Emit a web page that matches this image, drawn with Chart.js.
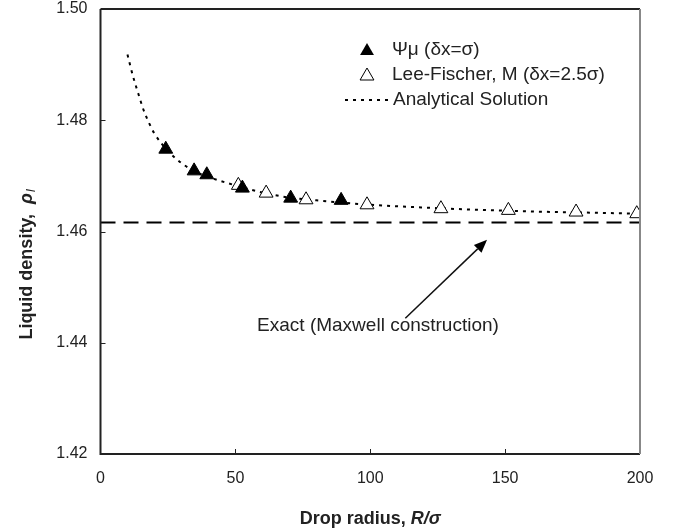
<!DOCTYPE html>
<html>
<head>
<meta charset="utf-8">
<script src="https://cdn.jsdelivr.net/npm/chart.js@4.4.1/dist/chart.umd.min.js"></script>
<style>
  html, body { margin: 0; padding: 0; background: #fff; }
  #wrap { width: 679px; height: 532px; }
</style>
</head>
<body>
<div id="wrap"><canvas id="grafica" width="679" height="532"></canvas></div>
<script>
// radio de gota R/sigma y densidad del liquido
const analyticR = [10, 12, 14, 16, 18, 20, 25, 30, 35, 40, 50, 60, 70, 80, 100, 120, 140, 160, 180, 200];
const analyticRho = [1.4918, 1.4880, 1.4848, 1.4818, 1.4795, 1.4776, 1.4745, 1.4723, 1.4708, 1.4698,
                     1.4683, 1.4670, 1.4661, 1.4656, 1.4648, 1.4643, 1.4639, 1.4636, 1.4634, 1.4632];

const psiR = [24.2, 34.7, 39.4, 52.6, 70.5, 89.2];
const psiRho = [1.4748, 1.4709, 1.4702, 1.4678, 1.4660, 1.4656];

const lfR = [51.1, 61.4, 76.2, 98.8, 126.2, 151.2, 176.3, 198.8];
const lfRho = [1.4683, 1.4669, 1.4657, 1.4648, 1.4641, 1.4638, 1.4635, 1.4632];

const exactR = [0, 200];
const exactRho = [1.4616, 1.4616];

const xTicks = [0, 50, 100, 150, 200];
const yTicks = [1.42, 1.44, 1.46, 1.48, 1.50];

const legendLabels = ['\u03A8\u03BC (\u03B4x=\u03C3)', 'Lee-Fischer, M (\u03B4x=2.5\u03C3)', 'Analytical Solution'];
const exactLabel = 'Exact (Maxwell construction)';
// flecha en unidades de datos: desde el texto hasta la linea exacta
const arrowFrom = [113, 1.4444];
const arrowTo = [143.3, 1.4585];

const FONT = "'Liberation Sans', Arial, sans-serif";
const TRI = 8;

function puntos(xs, ys) {
    return xs.map((x, i) => ({ x: x, y: ys[i] }));
}

function drawTri(ctx, x, y, r) {
    const h = r * 1.5, w = r * 1.732;
    ctx.moveTo(x, y - h * 2 / 3);
    ctx.lineTo(x + w / 2, y + h / 3);
    ctx.lineTo(x - w / 2, y + h / 3);
    ctx.closePath();
}

const marcoYTexto = {
    id: 'marcoYTexto',
    afterDraw(chart) {
        const ctx = chart.ctx;
        const a = chart.chartArea;
        const xs = chart.scales.x, ys = chart.scales.y;
        ctx.save();

        // marco
        ctx.lineWidth = 2;
        ctx.strokeStyle = '#222';
        ctx.beginPath();
        ctx.moveTo(a.left, a.top);
        ctx.lineTo(a.left, a.bottom);
        ctx.lineTo(a.right, a.bottom);
        ctx.moveTo(a.left, a.top);
        ctx.lineTo(a.right, a.top);
        ctx.stroke();
        ctx.strokeStyle = '#888';
        ctx.beginPath();
        ctx.moveTo(a.right, a.top);
        ctx.lineTo(a.right, a.bottom);
        ctx.stroke();

        // marcas hacia adentro
        ctx.lineWidth = 1;
        ctx.strokeStyle = '#222';
        ctx.beginPath();
        yTicks.slice(1, -1).forEach(v => {
            const py = Math.round(ys.getPixelForValue(v)) + 0.5;
            ctx.moveTo(a.left, py);
            ctx.lineTo(a.left + 5, py);
        });
        xTicks.slice(1, -1).forEach(v => {
            const px = Math.round(xs.getPixelForValue(v)) + 0.5;
            ctx.moveTo(px, a.bottom);
            ctx.lineTo(px, a.bottom - 5);
        });
        ctx.stroke();

        // leyenda
        const lx = 367, ly = [50, 75, 100];
        ctx.fillStyle = '#000';
        ctx.strokeStyle = '#000';
        ctx.lineWidth = 1;
        ctx.beginPath();
        drawTri(ctx, lx, ly[0] + 1, TRI);
        ctx.fill();
        ctx.fillStyle = '#fff';
        ctx.beginPath();
        drawTri(ctx, lx, ly[1] + 1, TRI);
        ctx.fill();
        ctx.stroke();
        ctx.lineWidth = 2;
        ctx.setLineDash([3, 5]);
        ctx.beginPath();
        ctx.moveTo(345, ly[2]);
        ctx.lineTo(389, ly[2]);
        ctx.stroke();
        ctx.setLineDash([]);

        ctx.fillStyle = '#222';
        ctx.font = '19px ' + FONT;
        ctx.textBaseline = 'middle';
        ctx.textAlign = 'left';
        ctx.fillText(legendLabels[0], 392, ly[0]);
        ctx.fillText(legendLabels[1], 392, ly[1]);
        ctx.fillText(legendLabels[2], 393, ly[2]);

        // texto y flecha de la solucion exacta
        ctx.textAlign = 'center';
        ctx.fillText(exactLabel, 378, 326);
        const x0 = xs.getPixelForValue(arrowFrom[0]), y0 = ys.getPixelForValue(arrowFrom[1]);
        const x1 = xs.getPixelForValue(arrowTo[0]), y1 = ys.getPixelForValue(arrowTo[1]);
        const ang = Math.atan2(y1 - y0, x1 - x0);
        const head = 13, hw = 5.5;
        const bx = x1 - head * Math.cos(ang), by = y1 - head * Math.sin(ang);
        ctx.strokeStyle = '#111';
        ctx.lineWidth = 1.5;
        ctx.beginPath();
        ctx.moveTo(x0, y0);
        ctx.lineTo(bx, by);
        ctx.stroke();
        ctx.fillStyle = '#000';
        ctx.beginPath();
        ctx.moveTo(x1, y1);
        ctx.lineTo(bx + hw * Math.sin(ang), by - hw * Math.cos(ang));
        ctx.lineTo(bx - hw * Math.sin(ang), by + hw * Math.cos(ang));
        ctx.closePath();
        ctx.fill();

        // titulos de ejes
        ctx.fillStyle = '#222';
        ctx.textBaseline = 'alphabetic';
        ctx.textAlign = 'left';
        const t1 = 'Drop radius, ', t2 = 'R/\u03C3';
        ctx.font = 'bold 18px ' + FONT;
        const w1 = ctx.measureText(t1).width;
        ctx.font = 'italic bold 18px ' + FONT;
        const w2 = ctx.measureText(t2).width;
        let sx = (a.left + a.right) / 2 - (w1 + w2) / 2;
        ctx.font = 'bold 18px ' + FONT;
        ctx.fillText(t1, sx, 524);
        ctx.font = 'italic bold 18px ' + FONT;
        ctx.fillText(t2, sx + w1, 524);

        ctx.translate(32, 265);
        ctx.rotate(-Math.PI / 2);
        const s1 = 'Liquid density,  ', s2 = '\u03C1', s3 = 'l';
        ctx.font = 'bold 18px ' + FONT;
        const v1 = ctx.measureText(s1).width;
        ctx.font = 'italic bold 18px ' + FONT;
        const v2 = ctx.measureText(s2).width;
        ctx.font = 'italic 12px ' + FONT;
        const v3 = ctx.measureText(s3).width;
        sx = -(v1 + v2 + v3) / 2;
        ctx.font = 'bold 18px ' + FONT;
        ctx.fillText(s1, sx, 0);
        ctx.font = 'italic bold 18px ' + FONT;
        ctx.fillText(s2, sx + v1, 0);
        ctx.font = 'italic 12px ' + FONT;
        ctx.fillText(s3, sx + v1 + v2 + 1, 3);
        ctx.restore();
    }
};

new Chart(document.getElementById('grafica'), {
    type: 'scatter',
    data: {
        datasets: [
            {
                label: legendLabels[0],
                data: puntos(psiR, psiRho),
                pointStyle: 'triangle',
                pointRadius: TRI,
                pointBackgroundColor: '#000',
                pointBorderColor: '#000',
                pointBorderWidth: 1,
                order: 0
            },
            {
                label: legendLabels[1],
                data: puntos(lfR, lfRho),
                pointStyle: 'triangle',
                pointRadius: TRI,
                pointBackgroundColor: '#fff',
                pointBorderColor: '#000',
                pointBorderWidth: 1,
                order: 1
            },
            {
                label: legendLabels[2],
                type: 'line',
                data: puntos(analyticR, analyticRho),
                borderColor: '#000',
                borderWidth: 2,
                borderDash: [3, 5],
                pointRadius: 0,
                cubicInterpolationMode: 'monotone',
                fill: false,
                order: 2
            },
            {
                label: exactLabel,
                type: 'line',
                data: puntos(exactR, exactRho),
                borderColor: '#000',
                borderWidth: 2,
                borderDash: [15, 8],
                pointRadius: 0,
                fill: false,
                order: 3
            }
        ]
    },
    options: {
        responsive: false,
        animation: false,
        layout: { padding: { left: 0, top: 8, right: 39, bottom: 0 } },
        plugins: {
            legend: { display: false },
            tooltip: { enabled: false }
        },
        scales: {
            x: {
                type: 'linear',
                min: 0,
                max: 200,
                afterBuildTicks: s => { s.ticks = xTicks.map(v => ({ value: v })); },
                afterFit: s => { s.height = 78; s.paddingLeft = 0; s.paddingRight = 0; },
                grid: { display: false, drawTicks: false },
                border: { display: false },
                ticks: {
                    padding: 17,
                    color: '#222',
                    font: { family: FONT, size: 16, lineHeight: 1 }
                }
            },
            y: {
                type: 'linear',
                min: 1.42,
                max: 1.50,
                afterBuildTicks: s => { s.ticks = yTicks.map(v => ({ value: v })); },
                afterFit: s => { s.width = 100.5; s.paddingTop = 0; s.paddingBottom = 0; },
                grid: { display: false, drawTicks: false },
                border: { display: false },
                ticks: {
                    padding: 13,
                    color: '#222',
                    font: { family: FONT, size: 16, lineHeight: 1 },
                    callback: v => v.toFixed(2)
                }
            }
        }
    },
    plugins: [marcoYTexto]
});
</script>
</body>
</html>
